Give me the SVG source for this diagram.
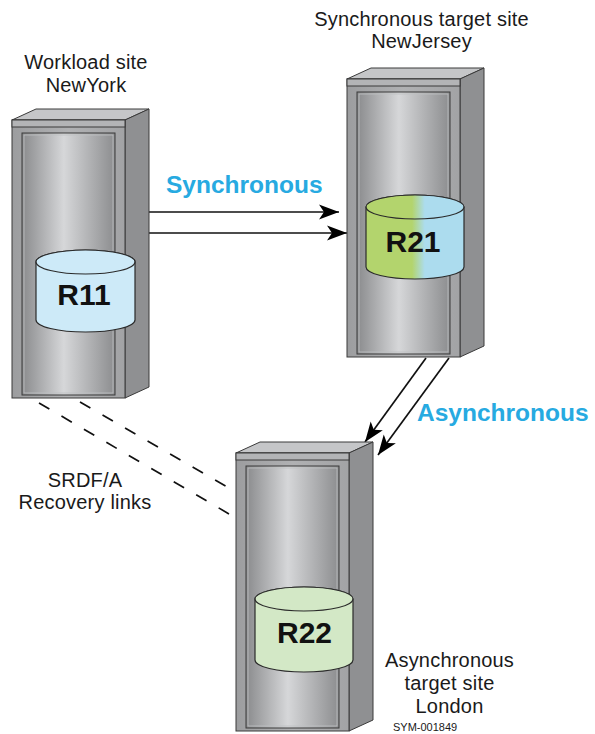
<svg xmlns="http://www.w3.org/2000/svg" width="595" height="734" viewBox="0 0 595 734">
  <defs>
    <linearGradient id="panel" x1="0" y1="0" x2="1" y2="0">
      <stop offset="0" stop-color="#8a8b8d"/>
      <stop offset="0.45" stop-color="#d6d7d9"/>
      <stop offset="1" stop-color="#8c8d8f"/>
    </linearGradient>
    <linearGradient id="frame" x1="0" y1="0" x2="1" y2="0">
      <stop offset="0" stop-color="#9c9d9f"/>
      <stop offset="0.5" stop-color="#b0b1b3"/>
      <stop offset="1" stop-color="#a2a3a5"/>
    </linearGradient>
    <linearGradient id="mix" x1="0" y1="0" x2="1" y2="0">
      <stop offset="0" stop-color="#b3d46d"/>
      <stop offset="0.47" stop-color="#b3d46d"/>
      <stop offset="0.6" stop-color="#acdcee"/>
      <stop offset="1" stop-color="#acdcee"/>
    </linearGradient>
    <marker id="head" markerWidth="22" markerHeight="16" refX="20" refY="8" orient="auto" markerUnits="userSpaceOnUse">
      <path d="M20,8 L0,0.5 L5,8 L0,15.5 Z" fill="#000"/>
    </marker>
    <!-- storage cabinet: front face origin at (0,0), 113 wide, 278 tall -->
    <g id="cabinet">
      <polygon class="top" points="0,0 24,-11 137,-11 113,0"/>
      <polygon class="side" points="113,0 137,-11 137,267 113,278"/>
      <rect class="front" x="0" y="0" width="113" height="278"/>
      <rect class="cap" x="0" y="0" width="113" height="7"/>
      <rect class="panel" x="10" y="13" width="93" height="262"/>
      <rect class="inner" x="12" y="15" width="89" height="258"/>
    </g>
  </defs>
  <style>
    .top { fill: #c5c6c8; stroke: #3a3a3a; stroke-width: 1; stroke-linejoin: round; }
    .side { fill: #8f9092; stroke: #3a3a3a; stroke-width: 1; stroke-linejoin: round; }
    .front { fill: url(#frame); stroke: #3a3a3a; stroke-width: 1; }
    .cap { fill: #b3b4b6; stroke: #3a3a3a; stroke-width: 1; }
    .panel { fill: url(#panel); stroke: #3a3a3a; stroke-width: 1; }
    .inner { fill: none; stroke: #bfc0c2; stroke-width: 0.8; }
    .cyl { stroke: #2a2a2a; stroke-width: 1.2; }
    .vol { font-family: "Liberation Sans", Arial, sans-serif; font-weight: bold; font-size: 30px; fill: #111; text-anchor: middle; }
    .site { font-family: "Liberation Sans", Arial, sans-serif; font-size: 20px; letter-spacing: 0.2px; fill: #1a1a1a; text-anchor: middle; }
    .mode { font-family: "Liberation Sans", Arial, sans-serif; font-weight: bold; font-size: 24.5px; fill: #27aae1; }
    .link { stroke: #111; stroke-width: 1.7; fill: none; }
    .dash { stroke: #111; stroke-width: 1.7; fill: none; stroke-dasharray: 12 14; }
    .code { font-family: "Liberation Sans", Arial, sans-serif; font-size: 11px; fill: #1a1a1a; }
  </style>

  <!-- connectors -->
  <g id="connectors">
    <line class="dash" x1="39" y1="403" x2="236" y2="518"/>
    <line class="dash" x1="80" y1="402" x2="236" y2="492"/>
    <line class="link" x1="149" y1="212" x2="339" y2="212" marker-end="url(#head)"/>
    <line class="link" x1="149" y1="233" x2="347" y2="233" marker-end="url(#head)"/>
    <line class="link" x1="426" y1="358" x2="365" y2="442" marker-end="url(#head)"/>
    <line class="link" x1="449" y1="358" x2="378" y2="455" marker-end="url(#head)"/>
  </g>

  <!-- workload site -->
  <g id="newyork">
    <use href="#cabinet" x="12" y="120"/>
    <path class="cyl" fill="#cdeaf8" d="M36,262 A49.5,12 0 0 1 135,262 L135,320 A49.5,12 0 0 1 36,320 Z"/>
    <ellipse class="cyl" fill="#cdeaf8" cx="85.5" cy="262" rx="49.5" ry="12"/>
    <text class="vol" x="84" y="305">R11</text>
    <text class="site" x="86" y="69">Workload site</text>
    <text class="site" x="86" y="92">NewYork</text>
  </g>

  <!-- synchronous target site -->
  <g id="newjersey">
    <use href="#cabinet" x="347" y="79"/>
    <path class="cyl" fill="url(#mix)" d="M366,207 A49,12 0 0 1 464,207 L464,267 A49,12 0 0 1 366,267 Z"/>
    <ellipse class="cyl" fill="url(#mix)" cx="415" cy="207" rx="49" ry="12"/>
    <text class="vol" x="413" y="252">R21</text>
    <text class="site" x="421.5" y="26">Synchronous target site</text>
    <text class="site" x="421.5" y="48">NewJersey</text>
  </g>

  <!-- asynchronous target site -->
  <g id="london">
    <use href="#cabinet" x="236" y="453"/>
    <path class="cyl" fill="#d3e8c6" d="M255,599 A49,12 0 0 1 353,599 L353,660 A49,12 0 0 1 255,660 Z"/>
    <ellipse class="cyl" fill="#d3e8c6" cx="304" cy="599" rx="49" ry="12"/>
    <text class="vol" x="304.5" y="643">R22</text>
    <text class="site" x="449.5" y="667">Asynchronous</text>
    <text class="site" x="449.5" y="690">target site</text>
    <text class="site" x="449.5" y="713">London</text>
  </g>

  <!-- labels -->
  <g id="labels">
    <text class="mode" x="166" y="193">Synchronous</text>
    <text class="mode" x="417" y="421">Asynchronous</text>
    <text class="site" x="85" y="487">SRDF/A</text>
    <text class="site" x="85" y="509">Recovery links</text>
    <text class="code" x="393" y="731">SYM-001849</text>
  </g>
</svg>
